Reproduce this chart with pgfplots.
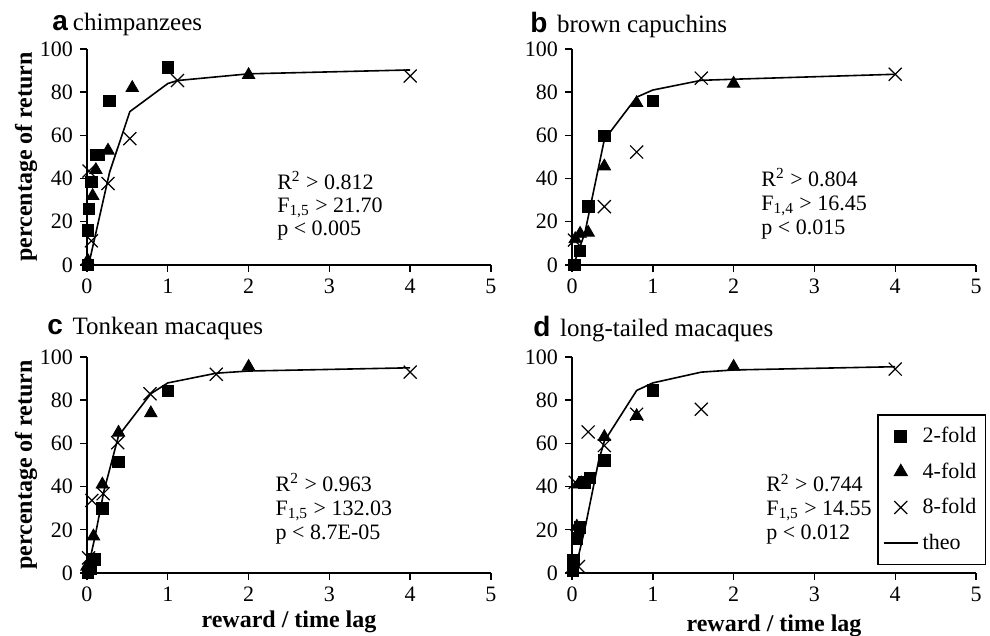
\documentclass[border=0pt]{standalone}
\usepackage{fontspec}
\setmainfont{Liberation Serif}
\setsansfont{Liberation Sans}
\usepackage{pgfplots}
\pgfplotsset{compat=1.18}
\pgfplotsset{
 panel/.style={
  scale only axis, width=202pt, height=108pt,
  xmin=0,xmax=5,ymin=0,ymax=100,
  xtick={0,1,2,3,4,5}, ytick={0,20,40,60,80,100},
  axis lines=left,
  axis line style={-, line width=0.7pt},
  tick align=outside, major tick length=3.5pt,
  tick style={line width=0.7pt, black},
  ticklabel style={font=\fontsize{11}{13}\selectfont},
  /pgf/number format/assume math mode=true,
  clip=false,
  xlabel style={font=\bfseries\fontsize{12}{14}\selectfont},
  ylabel style={font=\bfseries\fontsize{12}{14}\selectfont},
 },
 sq/.style={only marks, mark=square*, mark size=2.9pt, black},
 tri/.style={only marks, mark=triangle*, mark size=3.6pt, black},
 cr/.style={only marks, mark=x, mark size=4.6pt, black, mark options={line width=0.6pt}},
 theo/.style={black, line width=0.8pt, no marks},
}
\tikzset{stat/.style={anchor=base west, inner sep=0pt, font=\fontsize{11}{13}\selectfont}}
\newcommand{\pl}[1]{{\fontsize{14}{16}\selectfont\sffamily\bfseries #1}}
\newcommand{\tl}[1]{{\fontsize{12.5}{15}\selectfont #1}}
\begin{document}
\begin{tikzpicture}
\useasboundingbox (0,0) rectangle (495pt,318pt);
% ---------- a ----------
\begin{axis}[panel, at={(43.5pt,185.5pt)}, anchor=south west,
  ylabel={percentage of return},
  ylabel style={at={(axis description cs:-0.151,0.5)}, anchor=center}]
\addplot[sq] coordinates {(0.01,0) (0.01,16) (0.025,26) (0.054,38.5) (0.11,51) (0.14,51) (0.28,76) (1.0,91.5)};
\addplot[tri] coordinates {(0.01,2) (0.07,32) (0.11,44) (0.26,53) (0.56,82) (2,88)};
\addplot[cr] coordinates {(0.025,43.5) (0.054,11.2) (0.26,37.7) (0.53,58.5) (1.12,85.4) (4,87.5)};
\addplot[theo] coordinates {(0.02,0) (0.28,43) (0.53,71) (1.0,84) (1.12,85.4) (2,88.5) (4,90.3)};
\node[stat] at (axis cs:2.35,35.0) {R\textsuperscript{2} > 0.812};
\node[stat] at (axis cs:2.35,24.4) {F\textsubscript{1,5} > 21.70};
\node[stat] at (axis cs:2.35,13.8) {p < 0.005};
\end{axis}
% ---------- b ----------
\begin{axis}[panel, at={(286pt,185.5pt)}, anchor=south west]
\addplot[sq] coordinates {(0.03,0) (0.1,6.5) (0.2,27) (0.4,59.7) (1.0,76)};
\addplot[tri] coordinates {(0.04,12) (0.1,14.5) (0.2,15) (0.4,45.7) (0.8,75) (2,84)};
\addplot[cr] coordinates {(0.03,11.5) (0.4,27) (0.8,52.3) (1.6,86.5) (4,88.3)};
\addplot[theo] coordinates {(0.02,0) (0.16,15) (0.4,58) (0.8,77.7) (1.0,81) (1.6,85.5) (2,86) (4,88.3)};
\node[stat] at (axis cs:2.34,36.5) {R\textsuperscript{2} > 0.804};
\node[stat] at (axis cs:2.34,25.3) {F\textsubscript{1,4} > 16.45};
\node[stat] at (axis cs:2.34,14.3) {p < 0.015};
\end{axis}
% ---------- c ----------
\begin{axis}[panel, at={(43.5pt,31.5pt)}, anchor=south west,
  ylabel={percentage of return},
  ylabel style={at={(axis description cs:-0.151,0.5)}, anchor=center},
  xlabel={reward / time lag},
  xlabel style={at={(axis description cs:0.5,-0.251)}, anchor=base}]
\addplot[sq] coordinates {(0.01,0) (0.04,2) (0.09,6.4) (0.19,30) (0.39,51.5) (1.0,84.3)};
\addplot[tri] coordinates {(0.0,3) (0.08,17) (0.19,41) (0.39,65) (0.79,74) (2,95.5)};
\addplot[cr] coordinates {(0.02,7) (0.06,33.6) (0.2,36.7) (0.38,60.3) (0.78,83) (1.6,92) (4,93)};
\addplot[theo] coordinates {(0.0,0) (0.1,17) (0.21,38) (0.39,63.5) (0.79,83) (1.0,88) (1.6,92.5) (2,93.5) (4,95)};
\node[stat] at (axis cs:2.33,37.8) {R\textsuperscript{2} > 0.963};
\node[stat] at (axis cs:2.33,26.7) {F\textsubscript{1,5} > 132.03};
\node[stat] at (axis cs:2.33,15.3) {p < 8.7E-05};
\end{axis}
% ---------- d ----------
\begin{axis}[panel, at={(286pt,31.5pt)}, anchor=south west,
  xlabel={reward / time lag},
  xlabel style={at={(axis description cs:0.5,-0.27)}, anchor=base},
  legend cell align=left,
  legend style={at={(1.025,0.735)}, anchor=north east, draw=black, line width=0.65pt,
    font=\fontsize{11}{13}\selectfont, row sep=4.6pt, inner xsep=2.5pt, inner ysep=4pt}]
\addplot[sq] coordinates {(0.01,1) (0.02,6) (0.06,16) (0.1,21) (0.15,42) (0.22,44) (0.4,52) (1.0,84.5)};
\addplot[tri] coordinates {(0.01,2) (0.06,21.5) (0.08,41) (0.4,63) (0.8,72.7) (2,95.5)};
\addplot[cr] coordinates {(0.08,3) (0.04,42) (0.2,65.3) (0.4,59) (0.8,73.5) (1.6,75.8) (4,94.4)};
\addplot[theo] coordinates {(0.03,0) (0.16,20.5) (0.33,52) (0.4,61) (0.8,84.5) (1.0,88) (1.6,93) (2,94) (4,95.5)};
\legend{2-fold,4-fold,8-fold,theo}
\node[stat] at (axis cs:2.40,37.5) {R\textsuperscript{2} > 0.744};
\node[stat] at (axis cs:2.40,26.7) {F\textsubscript{1,5} > 14.55};
\node[stat] at (axis cs:2.40,15.3) {p < 0.012};
\end{axis}
% ---------- titles ----------
\node[anchor=base west, inner sep=0pt] at (26pt,302.5pt) {\pl{a}\hspace{2.5pt}\tl{chimpanzees}};
\node[anchor=base west, inner sep=0pt] at (265pt,301.9pt) {\pl{b}\hspace{4.8pt}\tl{brown capuchins}};
\node[anchor=base west, inner sep=0pt] at (23.5pt,150.5pt) {\pl{c}\hspace{4.8pt}\tl{Tonkean macaques}};
\node[anchor=base west, inner sep=0pt] at (266.5pt,149.7pt) {\pl{d}\hspace{4.8pt}\tl{long-tailed macaques}};
\end{tikzpicture}
\end{document}
